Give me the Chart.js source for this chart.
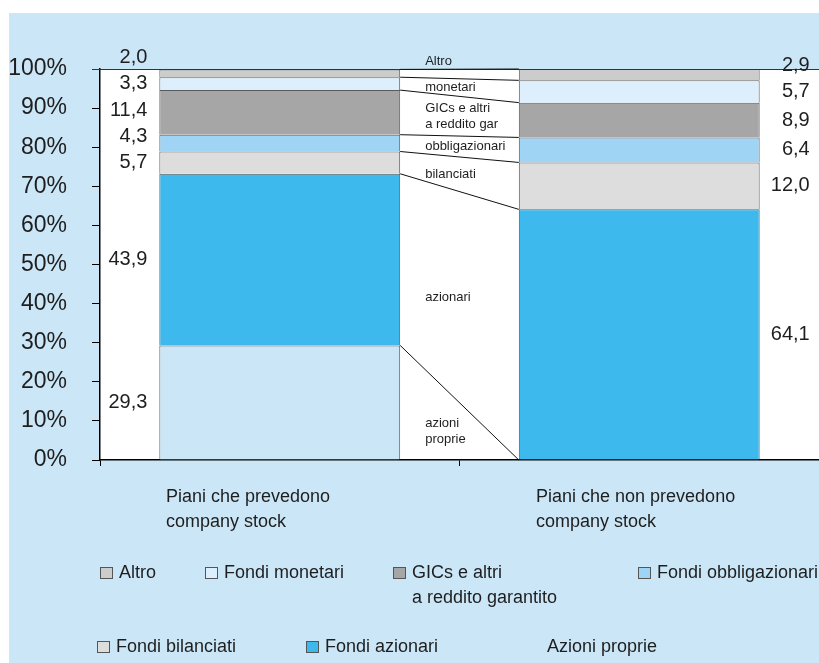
<!DOCTYPE html>
<html><head><meta charset="utf-8">
<script src="https://cdn.jsdelivr.net/npm/chart.js@4.4.1/dist/chart.umd.min.js"></script>
<style>html,body{margin:0;padding:0;background:#fff;overflow:hidden}canvas{display:block}</style>
</head><body>
<canvas id="c" width="819" height="663"></canvas>
<script>
// ---- data ----
const categories = [["Piani che prevedono", "company stock"], ["Piani che non prevedono", "company stock"]];
const seriesNames = ["Azioni proprie", "Fondi azionari", "Fondi bilanciati", "Fondi obbligazionari", "GICs e altri a reddito garantito", "Fondi monetari", "Altro"];
const legendLabels = [["Azioni proprie"], ["Fondi azionari"], ["Fondi bilanciati"], ["Fondi obbligazionari"], ["GICs e altri", "a reddito garantito"], ["Fondi monetari"], ["Altro"]];
const middleLabels = [["azioni", "proprie"], ["azionari"], ["bilanciati"], ["obbligazionari"], ["GICs e altri", "a reddito gar"], ["monetari"], ["Altro"]];
const azioniProprie = [29.3, 0];
const fondiAzionari = [43.9, 64.1];
const fondiBilanciati = [5.7, 12.0];
const fondiObbligazionari = [4.3, 6.4];
const gicsAltri = [11.4, 8.9];
const fondiMonetari = [3.3, 5.7];
const altro = [2.0, 2.9];
const seriesValues = [azioniProprie, fondiAzionari, fondiBilanciati, fondiObbligazionari, gicsAltri, fondiMonetari, altro];
const seriesColors = ["#cbe6f7", "#3db9ee", "#dddddd", "#9fd4f5", "#a6a6a6", "#ddeffd", "#cccccc"];
const BG = "#cbe6f7";
const FONT = "'Liberation Sans', Arial, sans-serif";
const TXT = "#1e1e1e";

Chart.defaults.font.family = FONT;

const fmt = v => v.toFixed(1).replace('.', ',');

function spreadUp(targets, gap) {
  const out = [];
  for (let i = 0; i < targets.length; i++) {
    let y = targets[i];
    if (i > 0) y = Math.min(y, out[i - 1] - gap);
    out.push(y);
  }
  return out;
}

const decor = {
  id: 'decor',
  beforeDraw(chart) {
    const {ctx, chartArea: a, width, height} = chart;
    ctx.save();
    ctx.fillStyle = '#ffffff';
    ctx.fillRect(0, 0, width, height);
    ctx.fillStyle = BG;
    ctx.fillRect(9, 13, width - 9, height - 13);
    ctx.fillStyle = '#ffffff';
    ctx.fillRect(a.left, a.top, a.right - a.left, a.bottom - a.top);
    ctx.restore();
  },
  afterDatasetsDraw(chart) {
    const {ctx, chartArea: a} = chart;
    const ys = chart.scales.y;
    const n = chart.data.datasets.length;
    ctx.save();
    ctx.strokeStyle = '#333';
    ctx.lineWidth = 1;
    ctx.beginPath();
    const yt = Math.round(ys.getPixelForValue(100)) + 0.5;
    ctx.moveTo(a.left - 8, yt); ctx.lineTo(a.right, yt); ctx.stroke();
    ctx.strokeStyle = '#111';
    for (let k = 0; k < n; k++) {
      const e1 = chart.getDatasetMeta(k).data[0];
      const e2 = chart.getDatasetMeta(k).data[1];
      ctx.beginPath();
      ctx.moveTo(e1.x + e1.width / 2, e1.y);
      ctx.lineTo(e2.x - e2.width / 2, e2.y);
      ctx.stroke();
    }
    const centers = (idx) => chart.data.datasets.map((d, k) => {
      const e = chart.getDatasetMeta(k).data[idx];
      return (e.y + e.base) / 2;
    });
    ctx.fillStyle = TXT;
    ctx.textBaseline = 'middle';
    ctx.font = '20px ' + FONT;
    const c1 = centers(0), c2 = centers(1);
    const p1 = spreadUp(c1, 26), p2 = spreadUp(c2, 26);
    const e10 = chart.getDatasetMeta(0).data[0];
    const e20 = chart.getDatasetMeta(0).data[1];
    const xL = e10.x - e10.width / 2 - 12;
    const xR = e20.x + e20.width / 2 + 50;
    ctx.textAlign = 'right';
    for (let k = 0; k < n; k++) {
      const v1 = chart.data.datasets[k].data[0];
      const v2 = chart.data.datasets[k].data[1];
      if (v1 > 0) ctx.fillText(fmt(v1), xL, p1[k]);
      if (v2 > 0) ctx.fillText(fmt(v2), xR, p2[k]);
    }
    const mid = spreadUp(c1.map((c, k) => (c + c2[k]) / 2), 26);
    const xM = e10.x + e10.width / 2 + 25;
    ctx.textAlign = 'left';
    ctx.font = '13px ' + FONT;
    for (let k = 0; k < n; k++) {
      const lines = middleLabels[k];
      const lh = 16;
      const y0 = mid[k] - (lines.length - 1) * lh / 2;
      lines.forEach((t, j) => ctx.fillText(t, xM, y0 + j * lh));
    }
    ctx.restore();
  },
  afterDraw(chart) {
    const {ctx} = chart;
    ctx.save();
    ctx.fillStyle = TXT;
    ctx.font = '18px ' + FONT;
    ctx.textAlign = 'left';
    ctx.textBaseline = 'middle';
    const catLeft = [166, 536];
    categories.forEach((lines, i) => {
      lines.forEach((t, j) => ctx.fillText(t, catLeft[i], 497 + j * 25));
    });
    const items = [
      {k: 6, x: 100, base: 578}, {k: 5, x: 205, base: 578}, {k: 4, x: 393, base: 578}, {k: 3, x: 638, base: 578},
      {k: 2, x: 97, base: 652}, {k: 1, x: 306, base: 652}, {k: 0, x: 528, base: 652}
    ];
    ctx.textBaseline = 'alphabetic';
    items.forEach(it => {
      const col = seriesColors[it.k];
      ctx.fillStyle = col;
      ctx.fillRect(it.x, it.base - 11, 13, 12);
      if (col !== BG) {
        ctx.strokeStyle = '#555';
        ctx.lineWidth = 1;
        ctx.strokeRect(it.x + 0.5, it.base - 10.5, 12, 11);
      }
      ctx.fillStyle = TXT;
      legendLabels[it.k].forEach((t, j) => ctx.fillText(t, it.x + 19, it.base + j * 25));
    });
    ctx.restore();
  }
};

new Chart(document.getElementById('c'), {
  type: 'bar',
  data: {
    labels: categories.map(c => c.join(' ')),
    datasets: seriesValues.map((vals, k) => ({
      label: seriesNames[k],
      data: vals,
      backgroundColor: seriesColors[k],
      borderColor: '#5a5a5a',
      borderWidth: 1,
      categoryPercentage: 1,
      barPercentage: 0.67
    }))
  },
  options: {
    responsive: false,
    animation: false,
    devicePixelRatio: 1,
    layout: {padding: {top: 69, right: 0, bottom: 0, left: 0}},
    plugins: {legend: {display: false}, tooltip: {enabled: false}},
    scales: {
      x: {
        stacked: true,
        offset: true,
        ticks: {display: false},
        grid: {display: true, drawOnChartArea: false, offset: true, tickLength: 6, color: '#000', lineWidth: 1},
        border: {display: true, color: '#000', width: 1.5},
        afterFit(s) { s.height = 203; }
      },
      y: {
        stacked: true,
        min: 0, max: 100,
        ticks: {stepSize: 10, callback: v => v + '%', font: {size: 23}, color: TXT, padding: 25},
        grid: {display: true, drawOnChartArea: false, tickLength: 8, color: '#000', lineWidth: 1},
        border: {display: true, color: '#000', width: 1.5},
        afterFit(s) { s.width = 100; }
      }
    }
  },
  plugins: [decor]
});
</script>
</body></html>
